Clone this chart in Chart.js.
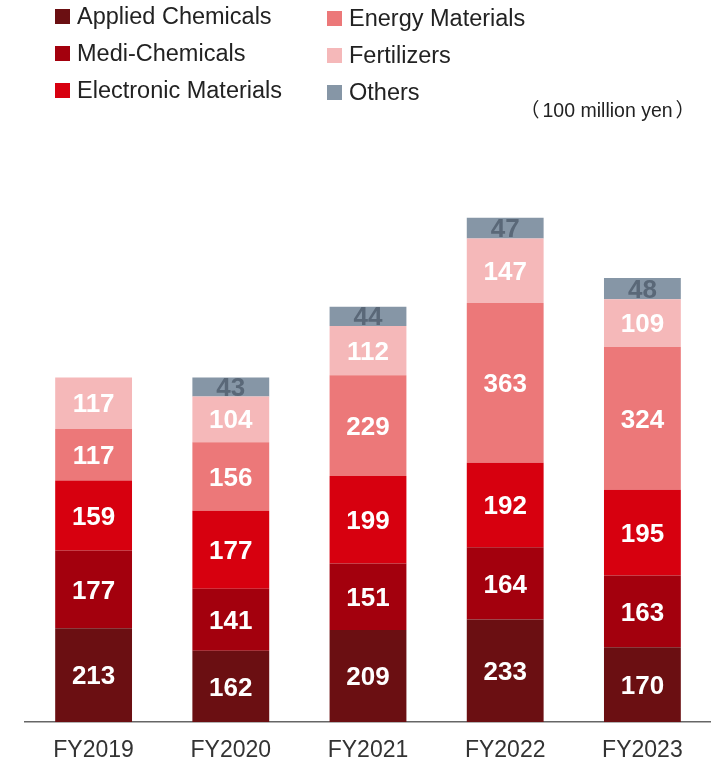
<!DOCTYPE html>
<html>
<head>
<meta charset="utf-8">
<script src="https://cdn.jsdelivr.net/npm/chart.js@4"></script>
<style>
  html, body { margin: 0; padding: 0; background: #fff; }
  #wrap { position: relative; width: 711px; height: 764px; }
  #chart { position: absolute; left: 0; top: 0; }
  .legend-item { position: absolute; font: 23.5px "Liberation Sans", Arial, sans-serif; color: #222; white-space: nowrap; line-height: 26px; }
  .legend-item span { display: inline-block; width: 15px; height: 15px; margin-right: 7px; vertical-align: 0px; }
  #unit { position: absolute; left: 520px; top: 94px; font: 19.5px "Liberation Sans", Arial, sans-serif; color: #222; white-space: nowrap; }
  #unit .p { font-family: "Noto Sans CJK JP", sans-serif; }
  #unit .l { margin-right: 3px; }
  #unit .r { margin-left: 3px; }
</style>
</head>
<body>
<div id="wrap">
  <canvas id="chart" width="711" height="764"></canvas>
  <div id="legend"></div>
  <div id="unit"><span class="p l">（</span>100 million yen<span class="p r">）</span></div>
</div>
<script>
// Categories (fiscal years)
const categories = ['FY2019', 'FY2020', 'FY2021', 'FY2022', 'FY2023'];

// Segment values, 100 million yen
const appliedChemicals = [213, 162, 209, 233, 170];
const mediChemicals = [177, 141, 151, 164, 163];
const electronicMaterials = [159, 177, 199, 192, 195];
const energyMaterials = [117, 156, 229, 363, 324];
const fertilizers = [117, 104, 112, 147, 109];
const others = [0, 43, 44, 47, 48];

const seriesNames = ['Applied Chemicals', 'Medi-Chemicals', 'Electronic Materials', 'Energy Materials', 'Fertilizers', 'Others'];
const seriesData = [appliedChemicals, mediChemicals, electronicMaterials, energyMaterials, fertilizers, others];
const seriesColors = ['#6b0f12', '#a3000d', '#d7000f', '#ec7879', '#f5b8b9', '#8696a6'];
const labelColors = ['#fff', '#fff', '#fff', '#fff', '#fff', '#5a6878'];

// legend in two columns, like the original
const legendBox = document.getElementById('legend');
const legendPos = [[55, 3], [55, 40], [55, 77], [327, 5], [327, 42], [327, 79]];
seriesNames.forEach((name, i) => {
  const item = document.createElement('div');
  item.className = 'legend-item';
  item.style.left = legendPos[i][0] + 'px';
  item.style.top = legendPos[i][1] + 'px';
  const box = document.createElement('span');
  box.style.background = seriesColors[i];
  item.appendChild(box);
  item.appendChild(document.createTextNode(name));
  legendBox.appendChild(item);
});

// draws the value in the middle of each segment
const valueLabels = {
  id: 'valueLabels',
  afterDatasetsDraw(chart) {
    const ctx = chart.ctx;
    ctx.save();
    ctx.font = 'bold 26px "Liberation Sans", Arial, sans-serif';
    ctx.textAlign = 'center';
    ctx.textBaseline = 'middle';
    chart.data.datasets.forEach((ds, di) => {
      const meta = chart.getDatasetMeta(di);
      meta.data.forEach((bar, i) => {
        const v = ds.data[i];
        if (!v) return;
        ctx.fillStyle = labelColors[di];
        ctx.fillText(String(v), bar.x, (bar.y + bar.base) / 2 + 2);
      });
    });
    ctx.restore();
  }
};

new Chart(document.getElementById('chart'), {
  type: 'bar',
  data: {
    labels: categories,
    datasets: seriesNames.map((name, i) => ({
      label: name,
      data: seriesData[i],
      backgroundColor: seriesColors[i],
      borderWidth: 0
    }))
  },
  options: {
    responsive: false,
    animation: false,
    layout: { padding: { left: 25, right: 0, top: 194, bottom: 0 } },
    plugins: {
      legend: { display: false },
      tooltip: { enabled: false }
    },
    datasets: {
      bar: { categoryPercentage: 1, barPercentage: 0.56 }
    },
    scales: {
      x: {
        stacked: true,
        grid: { display: false, drawTicks: false },
        border: { display: true, color: '#666', width: 1.5 },
        ticks: {
          padding: 15,
          color: '#333',
          font: { family: '"Liberation Sans", Arial, sans-serif', size: 23 }
        },
        afterFit(scale) { scale.height = 42; }
      },
      y: {
        stacked: true,
        display: false,
        min: 0,
        max: 1200
      }
    }
  },
  plugins: [valueLabels]
});
</script>
</body>
</html>
